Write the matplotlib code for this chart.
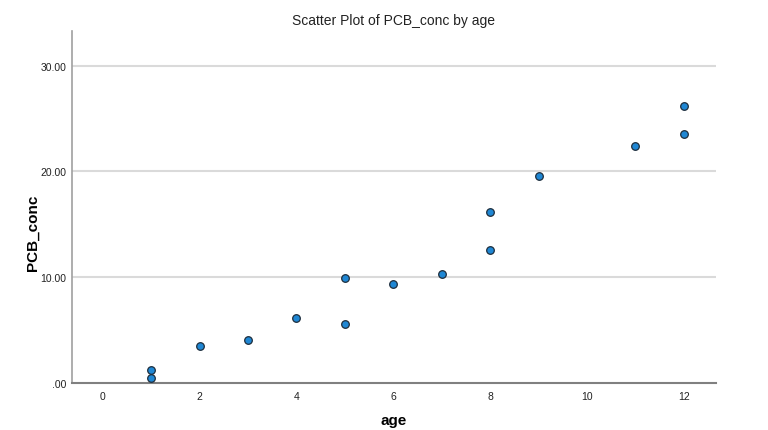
import matplotlib
matplotlib.use("Agg")
import matplotlib.pyplot as plt

age = [1, 1, 2, 3, 4, 5, 5, 6, 7, 8, 8, 9, 11, 12, 12]
pcb_conc = [1.2, 0.47, 3.5, 4.1, 6.15, 9.9, 5.6, 9.4, 10.3, 16.2, 12.6, 19.6, 22.4, 26.2, 23.5]
x_ticks = [0, 2, 4, 6, 8, 10, 12]
y_ticks = [0, 10, 20, 30]
y_tick_labels = [".00", "10.00", "20.00", "30.00"]

plt.rcParams['font.family'] = ['Liberation Sans', 'DejaVu Sans']

fig = plt.figure(figsize=(7.68, 4.31), dpi=100)
ax = fig.add_axes([0.0934, 0.109, 0.8386, 0.8175])

ax.set_xlim(-0.64, 12.66)
ax.set_ylim(0, 33.3)

for y in y_ticks[1:]:
    ax.axhline(y, color="#dadada", lw=1.5, zorder=1)

ax.scatter(age, pcb_conc, s=30, facecolor="#1f87d4", edgecolor="#1d2d3c", linewidths=0.9, zorder=3)

ax.set_xticks(x_ticks)
ax.set_yticks(y_ticks)
ax.set_yticklabels(y_tick_labels)
ax.tick_params(axis="both", length=0, labelsize=7.5, colors="#222222")
ax.tick_params(axis="x", pad=6)
ax.tick_params(axis="y", pad=4)

for s in ["top", "right"]:
    ax.spines[s].set_visible(False)
ax.spines["left"].set_color("#a0a0a0")
ax.spines["left"].set_linewidth(1.2)
ax.spines["bottom"].set_color("#808080")
ax.spines["bottom"].set_linewidth(1.5)

ax.set_title("Scatter Plot of PCB_conc by age", fontsize=10, color="#222222", pad=5)
ax.set_xlabel("age", fontsize=11, fontweight="bold")
ax.set_ylabel("PCB_conc", fontsize=11, fontweight="bold")
ax.xaxis.set_label_coords(0.5, -0.085)
ax.yaxis.set_label_coords(-0.05, 0.43)

fig.savefig("out.png", dpi=100, facecolor="white")
